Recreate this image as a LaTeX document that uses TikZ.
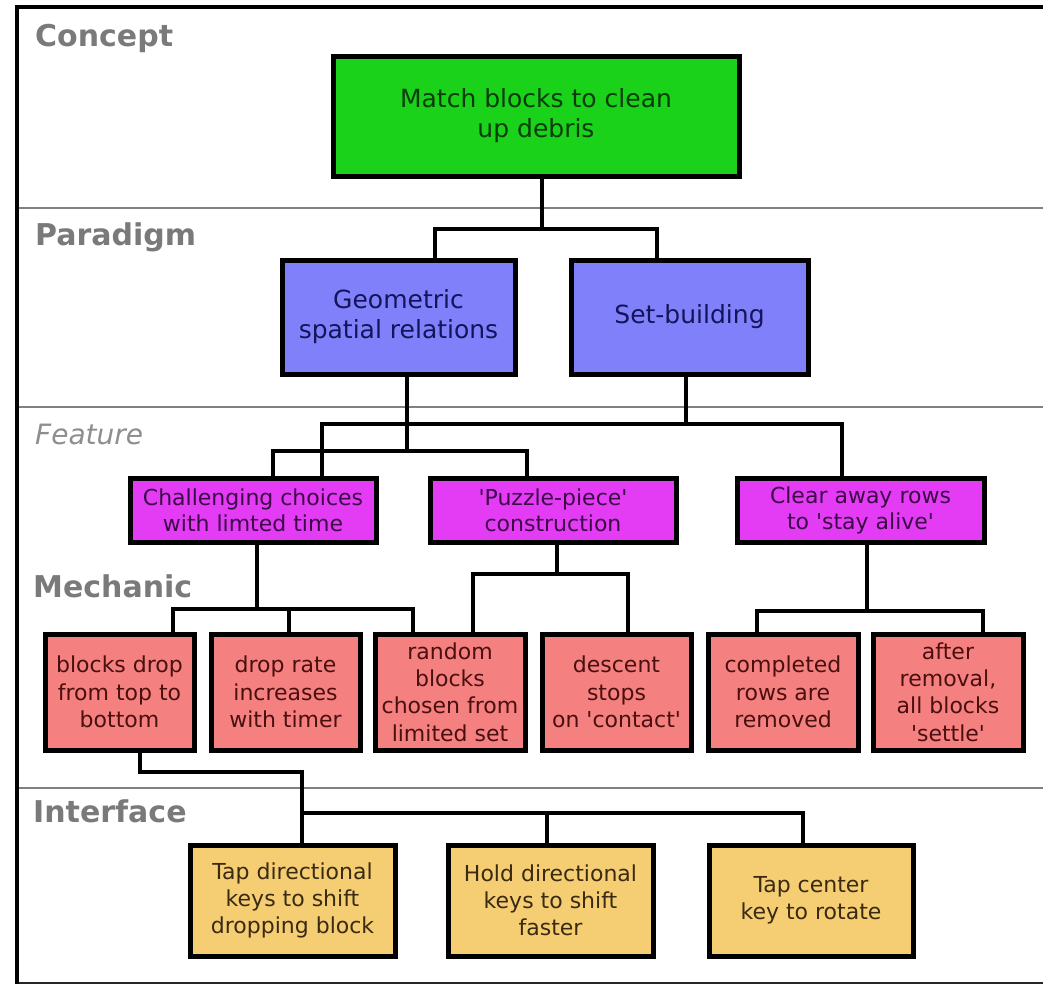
\documentclass[tikz,border=0pt]{standalone}
\usepackage{fontspec}
\setmainfont{DejaVu Sans}
\usetikzlibrary{calc,backgrounds}
\definecolor{cgreen}{RGB}{26,210,26}
\definecolor{cblue}{RGB}{128,128,250}
\definecolor{cmag}{RGB}{228,60,245}
\definecolor{csal}{RGB}{245,128,128}
\definecolor{cyel}{RGB}{245,205,115}
\definecolor{tgreen}{RGB}{10,60,10}
\definecolor{tblue}{RGB}{20,20,90}
\definecolor{tmag}{RGB}{60,10,70}
\definecolor{tsal}{RGB}{74,15,15}
\definecolor{tyel}{RGB}{58,42,18}
\definecolor{lgray}{RGB}{122,122,122}
\definecolor{sepgray}{RGB}{128,128,128}
\newcommand{\sq}{\textquotesingle}
\tikzset{
  boxbase/.style={draw=black, line width=5pt, rectangle, align=center, inner sep=0pt},
  conceptbox/.style={boxbase, fill=cgreen, text=tgreen, font=\fontsize{25}{30}\selectfont},
  parabox/.style={boxbase, fill=cblue, text=tblue, font=\fontsize{25}{30}\selectfont},
  featbox/.style={boxbase, fill=cmag, text=tmag, font=\fontsize{22}{26}\selectfont, minimum height=64, minimum width=246},
  mechbox/.style={boxbase, fill=csal, text=tsal, font=\fontsize{22}{27.4}\selectfont, minimum height=116, minimum width=149},
  ifbox/.style={boxbase, fill=cyel, text=tyel, font=\fontsize{22}{27}\selectfont, minimum height=111, minimum width=205},
  layerlabel/.style={anchor=base west, inner sep=0pt, text=lgray, font=\bfseries\fontsize{30}{30}\selectfont},
  conn/.style={draw=black, line width=3.8pt, line cap=rect},
  sepline/.style={draw=sepgray, line width=2.2pt},
}
\begin{document}
\begin{tikzpicture}[x=1pt,y=-1pt]
\useasboundingbox (0,0) rectangle (1043,985);
\begin{pgfonlayer}{background}
\fill[white] (0,0) rectangle (1043,985);
\draw[sepline] (17,208) -- (1043,208);
\draw[sepline] (17,407) -- (1043,407);
\draw[sepline] (17,788) -- (1043,788);
\draw[draw=black!85, line width=2.5pt] (17,983) -- (1043,983);
\draw[draw=black, line width=3.5pt] (1043,7) -- (17,7) -- (17,984);
\end{pgfonlayer}
% layer labels
\node[layerlabel] (lc) at (35,46) {Concept};
\node[layerlabel] (lp) at (35,245) {Paradigm};
\node[layerlabel, font=\itshape\fontsize{28}{28}\selectfont, text=lgray!85] (lf) at (35,444) {Feature};
\node[layerlabel] (lm) at (33,597) {Mechanic};
\node[layerlabel] (li) at (33,822) {Interface};
% boxes
\node[conceptbox, minimum width=406, minimum height=120] (c) at (536,116) {Match blocks to clean\\up debris};
\node[parabox, minimum width=233, minimum height=114] (p1) at (398.5,317) {Geometric\\spatial relations};
\node[parabox, minimum width=237, minimum height=114] (p2) at (689.5,317) {Set-building};
\node[featbox] (f1) at (253,510) {Challenging choices\\with limted time};
\node[featbox] (f2) at (553,510) {\sq Puzzle-piece\sq\\construction};
\node[featbox, minimum width=247] (f3) at (860.5,510) {Clear away rows\\to \sq stay alive\sq};
\node[mechbox] (m1) at (119.5,692) {blocks drop\\from top to\\bottom};
\node[mechbox] (m2) at (285.5,692) {drop rate\\increases\\with timer};
\node[mechbox, minimum width=150] (m3) at (450,692) {random\\blocks\\chosen from\\limited set};
\node[mechbox] (m4) at (616.5,692) {descent\\stops\\on \sq contact\sq};
\node[mechbox, minimum width=150] (m5) at (783,692) {completed\\rows are\\removed};
\node[mechbox, minimum width=150] (m6) at (948,692) {after\\removal,\\all blocks\\\sq settle\sq};
\node[ifbox] (i1) at (292.5,900.5) {Tap directional\\keys to shift\\dropping block};
\node[ifbox] (i2) at (550.5,900.5) {Hold directional\\keys to shift\\faster};
\node[ifbox, minimum width=204] (i3) at (811,900.5) {Tap center\\key to rotate};
% junctions
\coordinate (j1) at (542,229);
\coordinate (j2) at (407,451);
\coordinate (j3) at (686,424);
\coordinate (j4) at (257,609);
\coordinate (j5) at (557,574);
\coordinate (j6) at (867,611);
\coordinate (k1) at (302,772);
\coordinate (j7) at (302,813);
% connectors behind the boxes
\begin{pgfonlayer}{background}
\draw[conn] (c.south -| j1) -- (j1);
\draw[conn] ([xshift=36.5pt]p1.north) |- (j1) -| ([xshift=-32.5pt]p2.north);
\draw[conn] (p1.south -| j2) -- (j2);
\draw[conn] ([xshift=20pt]f1.north) |- (j2) -| ([xshift=-26pt]f2.north);
\draw[conn] (p2.south -| j3) -- (j3);
\draw[conn] ([xshift=69pt]f1.north) |- (j3) -| ([xshift=-18.5pt]f3.north);
\draw[conn] (f1.south -| j4) -- (j4);
\draw[conn] ([xshift=53.5pt]m1.north) |- (j4) -| ([xshift=-37pt]m3.north);
\draw[conn] ([xshift=3.5pt]m2.north) |- (j4);
\draw[conn] (f2.south -| j5) -- (j5);
\draw[conn] ([xshift=23pt]m3.north) |- (j5) -| ([xshift=11.5pt]m4.north);
\draw[conn] (f3.south -| j6) -- (j6);
\draw[conn] ([xshift=-26pt]m5.north) |- (j6) -| ([xshift=35pt]m6.north);
\draw[conn] ([xshift=20.5pt]m1.south) |- (k1) -- (j7);
\draw[conn] (i1.north -| j7) -- (j7) -| ([xshift=-8pt]i3.north);
\draw[conn] ([xshift=-3.5pt]i2.north) |- (j7);
\end{pgfonlayer}
\end{tikzpicture}
\end{document}
